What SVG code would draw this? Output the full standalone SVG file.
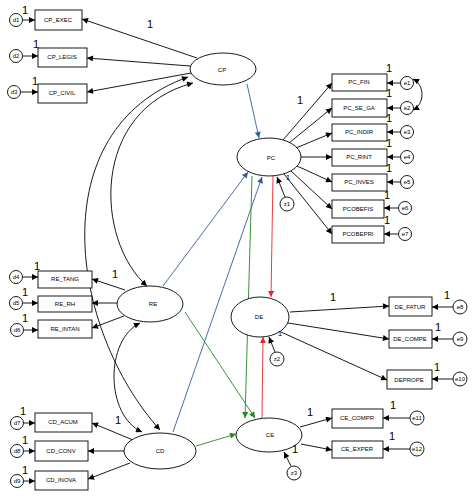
<svg xmlns="http://www.w3.org/2000/svg" width="474" height="499" viewBox="0 0 474 499">
<style>
.n{fill:#fff;stroke:#000;stroke-width:0.9}
.t{font-family:"Liberation Sans",Arial,sans-serif;font-size:6px;text-anchor:middle;dominant-baseline:central;fill:#000}
.o{font-family:"Liberation Sans",Arial,sans-serif;font-size:11px;text-anchor:middle;fill:#000}
.os{font-family:"Liberation Sans",Arial,sans-serif;font-size:8px;text-anchor:middle;fill:#000}
.k{fill:none;stroke:#000;stroke-width:0.9;marker-end:url(#ak)}
.b{fill:none;stroke:#2e5f9e;stroke-width:0.9;marker-end:url(#ab)}
.g{fill:none;stroke:#1f8a1f;stroke-width:0.9;marker-end:url(#ag)}
.r{fill:none;stroke:#e8262a;stroke-width:0.9;marker-end:url(#ar)}
.c{fill:none;stroke:#000;stroke-width:0.9;marker-start:url(#ak);marker-end:url(#ak)}
</style>
<defs>
<marker id="ak" viewBox="0 0 10 10" refX="10" refY="5" markerWidth="7" markerHeight="6" markerUnits="userSpaceOnUse" orient="auto-start-reverse"><path d="M0,0 L10,5 L0,10 z" fill="#000"/></marker>
<marker id="ab" viewBox="0 0 10 10" refX="10" refY="5" markerWidth="7" markerHeight="6" markerUnits="userSpaceOnUse" orient="auto"><path d="M0,0 L10,5 L0,10 z" fill="#2e5f9e"/></marker>
<marker id="ag" viewBox="0 0 10 10" refX="10" refY="5" markerWidth="7" markerHeight="6" markerUnits="userSpaceOnUse" orient="auto"><path d="M0,0 L10,5 L0,10 z" fill="#1f8a1f"/></marker>
<marker id="ar" viewBox="0 0 10 10" refX="10" refY="5" markerWidth="7" markerHeight="6" markerUnits="userSpaceOnUse" orient="auto"><path d="M0,0 L10,5 L0,10 z" fill="#e8262a"/></marker>
</defs>
<rect width="474" height="499" fill="#fff"/>

<g id="connectors">
<!-- CP indicators -->
<line class="k" x1="197" y1="58" x2="82" y2="19"/>
<line class="k" x1="190" y1="66" x2="87" y2="58"/>
<line class="k" x1="191" y1="73" x2="87" y2="92"/>
<line class="k" x1="23" y1="20" x2="35" y2="20"/>
<line class="k" x1="23" y1="56" x2="38" y2="56"/>
<line class="k" x1="21" y1="92" x2="38" y2="92"/>
<!-- PC indicators -->
<line class="k" x1="283" y1="140" x2="332" y2="83"/>
<line class="k" x1="289" y1="143" x2="332" y2="108"/>
<line class="k" x1="296" y1="148" x2="332" y2="133"/>
<line class="k" x1="301" y1="157" x2="332" y2="157"/>
<line class="k" x1="297" y1="166" x2="332" y2="182"/>
<line class="k" x1="291" y1="171" x2="332" y2="209"/>
<line class="k" x1="284" y1="174" x2="332" y2="234"/>
<line class="k" x1="400" y1="83" x2="387" y2="83"/>
<line class="k" x1="400" y1="108" x2="387" y2="108"/>
<line class="k" x1="400" y1="132" x2="387" y2="132"/>
<line class="k" x1="400" y1="157" x2="387" y2="157"/>
<line class="k" x1="400" y1="182" x2="387" y2="182"/>
<line class="k" x1="398" y1="208" x2="384" y2="208"/>
<line class="k" x1="398" y1="234" x2="384" y2="234"/>
<path class="c" d="M413,79 C425,85 425,104 413,110"/>
<!-- DE indicators -->
<line class="k" x1="290" y1="312" x2="389" y2="306"/>
<line class="k" x1="288" y1="323" x2="389" y2="339"/>
<line class="k" x1="281" y1="332" x2="387" y2="380"/>
<line class="k" x1="453" y1="307" x2="432" y2="307"/>
<line class="k" x1="453" y1="339" x2="432" y2="339"/>
<line class="k" x1="453" y1="379" x2="432" y2="379"/>
<!-- CE indicators -->
<line class="k" x1="300" y1="427" x2="332" y2="418"/>
<line class="k" x1="301" y1="444" x2="332" y2="450"/>
<line class="k" x1="410" y1="418" x2="383" y2="418"/>
<line class="k" x1="410" y1="449" x2="383" y2="449"/>
<!-- RE indicators -->
<line class="k" x1="125" y1="290" x2="92" y2="279"/>
<line class="k" x1="117" y1="303" x2="92" y2="303"/>
<line class="k" x1="124" y1="316" x2="92" y2="328"/>
<line class="k" x1="23" y1="277" x2="38" y2="277"/>
<line class="k" x1="23" y1="303" x2="38" y2="303"/>
<line class="k" x1="24" y1="330" x2="38" y2="330"/>
<!-- CD indicators -->
<line class="k" x1="133" y1="440" x2="92" y2="423"/>
<line class="k" x1="124" y1="451" x2="88" y2="451"/>
<line class="k" x1="130" y1="463" x2="88" y2="479"/>
<line class="k" x1="24" y1="423" x2="35" y2="423"/>
<line class="k" x1="24" y1="451" x2="35" y2="451"/>
<line class="k" x1="24" y1="481" x2="35" y2="481"/>
<!-- disturbances -->
<line class="k" x1="285" y1="197" x2="277" y2="177"/>
<line class="k" x1="275" y1="352" x2="269" y2="337"/>
<line class="k" x1="291" y1="466" x2="284" y2="452"/>
<!-- structural paths -->
<line class="b" x1="247" y1="84" x2="259" y2="138"/>
<line class="b" x1="163" y1="286" x2="248" y2="172"/>
<line class="b" x1="173" y1="432" x2="262" y2="177"/>
<line class="g" x1="252" y1="176" x2="245" y2="418"/>
<line class="g" x1="185" y1="312" x2="255" y2="418"/>
<line class="g" x1="196" y1="446" x2="236" y2="434"/>
<line class="r" x1="273" y1="176" x2="271" y2="297"/>
<line class="r" x1="262" y1="418" x2="263" y2="337"/>
<!-- covariances -->
<path class="c" d="M188,77 C40,130 70,330 160,430"/>
<path class="c" d="M193,83 C90,110 95,240 147,286"/>
<path class="c" d="M140,323 C105,340 105,415 142,432"/>
</g>

<g id="CP"><ellipse class="n" cx="223" cy="69" rx="33" ry="16"/><text class="t" x="222" y="70">CP</text></g>
<g id="PC"><ellipse class="n" cx="269" cy="157" rx="32" ry="19"/><text class="t" x="271" y="158">PC</text></g>
<g id="DE"><ellipse class="n" cx="260" cy="317" rx="29" ry="20"/><text class="t" x="259" y="317">DE</text></g>
<g id="CE"><ellipse class="n" cx="269" cy="435" rx="33" ry="17"/><text class="t" x="270" y="435">CE</text></g>
<g id="RE"><ellipse class="n" cx="150" cy="304" rx="33" ry="18"/><text class="t" x="153" y="304">RE</text></g>
<g id="CD"><ellipse class="n" cx="160" cy="451" rx="36" ry="18"/><text class="t" x="160" y="451">CD</text></g>

<g id="CP_EXEC"><rect class="n" x="35" y="10" width="47" height="20"/><text class="t" x="58" y="20">CP_EXEC</text></g>
<g id="CP_LEGIS"><rect class="n" x="38" y="48" width="49" height="19"/><text class="t" x="62" y="57">CP_LEGIS</text></g>
<g id="CP_CIVIL"><rect class="n" x="38" y="84" width="49" height="19"/><text class="t" x="62" y="93">CP_CIVIL</text></g>
<g id="d1"><circle class="n" cx="16" cy="20" r="6.5"/><text class="t" x="16" y="20">d1</text></g>
<g id="d2"><circle class="n" cx="16" cy="56" r="6.5"/><text class="t" x="16" y="56">d2</text></g>
<g id="d3"><circle class="n" cx="14" cy="92" r="6.5"/><text class="t" x="14" y="92">d3</text></g>

<g id="PC_FIN"><rect class="n" x="332" y="74" width="55" height="17"/><text class="t" x="359" y="82">PC_FIN</text></g>
<g id="PC_SE_GA"><rect class="n" x="332" y="99" width="55" height="18"/><text class="t" x="359" y="108">PC_SE_GA</text></g>
<g id="PC_INDIR"><rect class="n" x="332" y="124" width="55" height="17"/><text class="t" x="359" y="132">PC_INDIR</text></g>
<g id="PC_RINT"><rect class="n" x="332" y="149" width="55" height="17"/><text class="t" x="359" y="157">PC_RINT</text></g>
<g id="PC_INVES"><rect class="n" x="332" y="174" width="55" height="17"/><text class="t" x="359" y="182">PC_INVES</text></g>
<g id="PCOBEFIS"><rect class="n" x="332" y="200" width="52" height="18"/><text class="t" x="358" y="209">PCOBEFIS</text></g>
<g id="PCOBEPRI"><rect class="n" x="332" y="226" width="52" height="17"/><text class="t" x="358" y="234">PCOBEPRI</text></g>
<g id="e1"><circle class="n" cx="407" cy="83" r="6.5"/><text class="t" x="407" y="83">e1</text></g>
<g id="e2"><circle class="n" cx="407" cy="108" r="6.5"/><text class="t" x="407" y="108">e2</text></g>
<g id="e3"><circle class="n" cx="407" cy="132" r="6.5"/><text class="t" x="407" y="132">e3</text></g>
<g id="e4"><circle class="n" cx="407" cy="157" r="6.5"/><text class="t" x="407" y="157">e4</text></g>
<g id="e5"><circle class="n" cx="407" cy="182" r="6.5"/><text class="t" x="407" y="182">e5</text></g>
<g id="e6"><circle class="n" cx="405" cy="208" r="6.5"/><text class="t" x="405" y="208">e6</text></g>
<g id="e7"><circle class="n" cx="405" cy="234" r="6.5"/><text class="t" x="405" y="234">e7</text></g>
<g id="z1"><circle class="n" cx="287" cy="204" r="7"/><text class="t" x="287" y="204">z1</text></g>

<g id="DE_FATUR"><rect class="n" x="389" y="297" width="43" height="19"/><text class="t" x="410" y="307">DE_FATUR</text></g>
<g id="DE_COMPE"><rect class="n" x="389" y="330" width="43" height="18"/><text class="t" x="410" y="339">DE_COMPE</text></g>
<g id="DEPROPE"><rect class="n" x="387" y="370" width="45" height="19"/><text class="t" x="409" y="380">DEPROPE</text></g>
<g id="e8"><circle class="n" cx="460" cy="307" r="7"/><text class="t" x="460" y="307">e8</text></g>
<g id="e9"><circle class="n" cx="460" cy="339" r="7"/><text class="t" x="460" y="339">e9</text></g>
<g id="e10"><circle class="n" cx="460" cy="379" r="7"/><text class="t" x="460" y="379">e10</text></g>
<g id="z2"><circle class="n" cx="277" cy="359" r="7"/><text class="t" x="277" y="359">z2</text></g>

<g id="CE_COMPR"><rect class="n" x="332" y="409" width="51" height="19"/><text class="t" x="357" y="418">CE_COMPR</text></g>
<g id="CE_EXPER"><rect class="n" x="332" y="441" width="51" height="17"/><text class="t" x="357" y="449">CE_EXPER</text></g>
<g id="e11"><circle class="n" cx="417" cy="418" r="7"/><text class="t" x="417" y="418">e11</text></g>
<g id="e12"><circle class="n" cx="417" cy="449" r="7"/><text class="t" x="417" y="449">e12</text></g>
<g id="z3"><circle class="n" cx="294" cy="473" r="7"/><text class="t" x="294" y="473">z3</text></g>

<g id="RE_TANG"><rect class="n" x="38" y="271" width="54" height="17"/><text class="t" x="65" y="279">RE_TANG</text></g>
<g id="RE_RH"><rect class="n" x="38" y="296" width="54" height="16"/><text class="t" x="65" y="304">RE_RH</text></g>
<g id="RE_INTAN"><rect class="n" x="38" y="320" width="54" height="18"/><text class="t" x="65" y="329">RE_INTAN</text></g>
<g id="d4"><circle class="n" cx="16" cy="277" r="6.5"/><text class="t" x="16" y="277">d4</text></g>
<g id="d5"><circle class="n" cx="16" cy="303" r="6.5"/><text class="t" x="16" y="303">d5</text></g>
<g id="d6"><circle class="n" cx="17" cy="330" r="6.5"/><text class="t" x="17" y="330">d6</text></g>

<g id="CD_ACUM"><rect class="n" x="35" y="413" width="57" height="19"/><text class="t" x="63" y="422">CD_ACUM</text></g>
<g id="CD_CONV"><rect class="n" x="35" y="441" width="53" height="20"/><text class="t" x="61" y="451">CD_CONV</text></g>
<g id="CD_INOVA"><rect class="n" x="35" y="471" width="53" height="19"/><text class="t" x="61" y="480">CD_INOVA</text></g>
<g id="d7"><circle class="n" cx="17" cy="423" r="6.5"/><text class="t" x="17" y="423">d7</text></g>
<g id="d8"><circle class="n" cx="17" cy="451" r="6.5"/><text class="t" x="17" y="451">d8</text></g>
<g id="d9"><circle class="n" cx="17" cy="481" r="6.5"/><text class="t" x="17" y="481">d9</text></g>

<g id="labels">
<text class="o" x="25" y="14">1</text>
<text class="o" x="36" y="48">1</text>
<text class="o" x="35" y="85">1</text>
<text class="o" x="150" y="28">1</text>
<text class="o" x="37" y="270">1</text>
<text class="o" x="25" y="296">1</text>
<text class="o" x="25" y="322">1</text>
<text class="o" x="115" y="278">1</text>
<text class="o" x="23" y="415">1</text>
<text class="o" x="25" y="444">1</text>
<text class="o" x="25" y="474">1</text>
<text class="o" x="118" y="424">1</text>
<text class="o" x="300" y="104">1</text>
<text class="o" x="389" y="72">1</text>
<text class="o" x="389" y="97">1</text>
<text class="o" x="389" y="122">1</text>
<text class="o" x="389" y="147">1</text>
<text class="o" x="389" y="172">1</text>
<text class="o" x="387" y="199">1</text>
<text class="o" x="387" y="224">1</text>
<text class="os" x="288" y="180">1</text>
<text class="o" x="333" y="301">1</text>
<text class="o" x="447" y="299">1</text>
<text class="o" x="438" y="331">1</text>
<text class="o" x="437" y="371">1</text>
<text class="os" x="280" y="336">1</text>
<text class="o" x="310" y="416">1</text>
<text class="o" x="393" y="409">1</text>
<text class="o" x="392" y="440">1</text>
<text class="o" x="295" y="453">1</text>
</g>
</svg>
